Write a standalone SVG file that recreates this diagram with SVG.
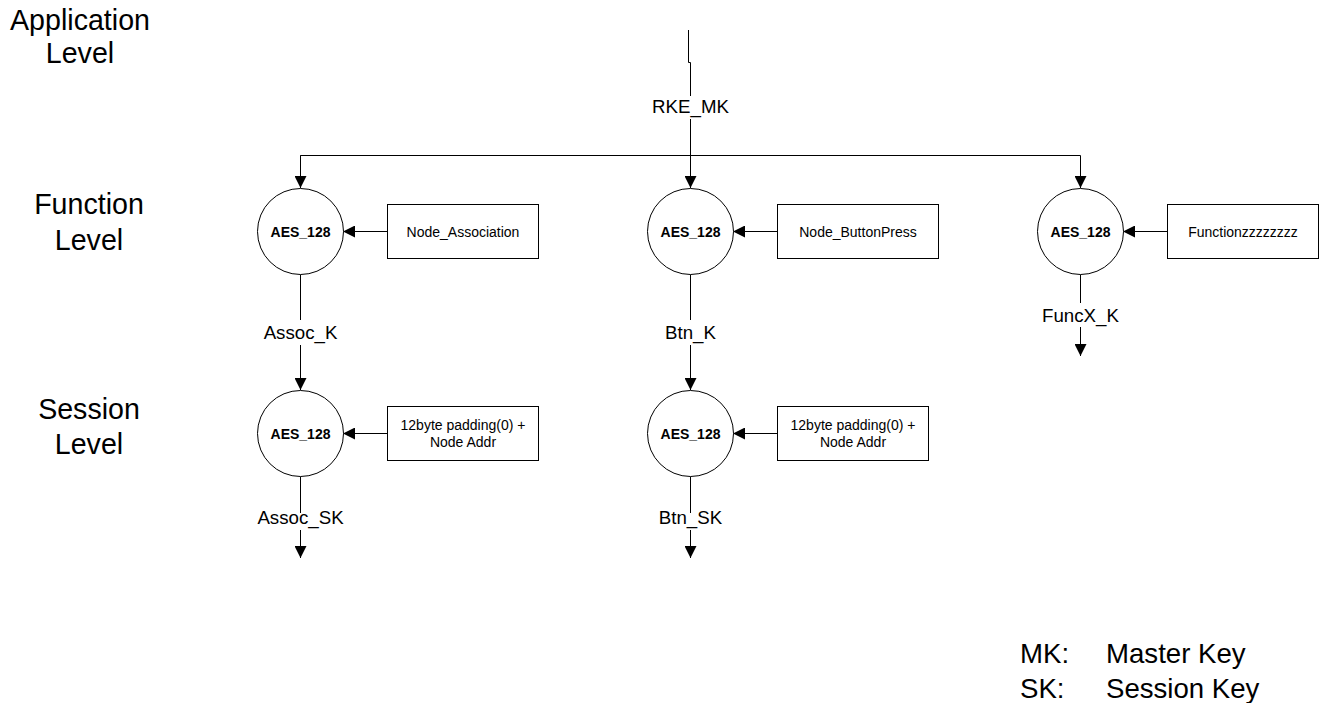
<svg xmlns="http://www.w3.org/2000/svg" width="1320" height="703" viewBox="0 0 1320 703">
<style>
text{font-family:"Liberation Sans",Arial,sans-serif;fill:#000}
.lvl{font-size:28.6px;text-anchor:middle}
.lab{font-size:18.7px;text-anchor:middle}
.aes{font-size:14px;font-weight:bold;text-anchor:middle}
.bx{font-size:14px;text-anchor:middle}
.leg{font-size:27.6px}
.c{fill:#fff;stroke:#000;stroke-width:1}
.r{fill:#fff;stroke:#000;stroke-width:1}
.ln{fill:none;stroke:#000;stroke-width:1}
</style>
<defs>
<marker id="ah" viewBox="0 0 12 12" refX="12" refY="6" markerWidth="12" markerHeight="12" markerUnits="userSpaceOnUse" orient="auto">
<path d="M0,0 L12,6 L0,12 z" fill="#000"/>
</marker>
</defs>
<rect width="1320" height="703" fill="#fff"/>
<g id="levels">
<text class="lvl" x="80" y="30">Application</text>
<text class="lvl" x="80" y="63">Level</text>
<text class="lvl" x="89" y="214">Function</text>
<text class="lvl" x="89" y="250">Level</text>
<text class="lvl" x="89" y="419">Session</text>
<text class="lvl" x="89" y="454">Level</text>
</g>
<g id="connectors">
<path class="ln" d="M688.5,30 V62.5 H690.5 V96"/>
<path class="ln" d="M690.5,119 V188" marker-end="url(#ah)"/>
<path class="ln" d="M300.5,188 V155.5 H1080.5 V188" marker-end="url(#ah)"/>
<path class="ln" d="M300.5,155.5 V188" marker-end="url(#ah)"/>
<path class="ln" d="M387,231.5 H343" marker-end="url(#ah)"/>
<path class="ln" d="M777,231.5 H733" marker-end="url(#ah)"/>
<path class="ln" d="M1167,231.5 H1123" marker-end="url(#ah)"/>
<path class="ln" d="M387,433.5 H343" marker-end="url(#ah)"/>
<path class="ln" d="M777,433.5 H733" marker-end="url(#ah)"/>
<path class="ln" d="M300.5,274.5 V320"/>
<path class="ln" d="M300.5,345 V390" marker-end="url(#ah)"/>
<path class="ln" d="M690.5,274.5 V320"/>
<path class="ln" d="M690.5,345 V390" marker-end="url(#ah)"/>
<path class="ln" d="M1080.5,274.5 V303"/>
<path class="ln" d="M1080.5,327 V356" marker-end="url(#ah)"/>
<path class="ln" d="M300.5,476.5 V513"/>
<path class="ln" d="M300.5,530 V558" marker-end="url(#ah)"/>
<path class="ln" d="M690.5,476.5 V513"/>
<path class="ln" d="M690.5,530 V558" marker-end="url(#ah)"/>
<text class="lab" x="690.5" y="112.5">RKE_MK</text>
<text class="lab" x="300.5" y="338.5">Assoc_K</text>
<text class="lab" x="690.5" y="338.5">Btn_K</text>
<text class="lab" x="1080.5" y="321.5">FuncX_K</text>
<text class="lab" x="300.5" y="523.5">Assoc_SK</text>
<text class="lab" x="690.5" y="523.5">Btn_SK</text>
</g>
<g id="aes_f1"><circle class="c" cx="300.5" cy="231.5" r="43"/><text class="aes" x="300.5" y="236.5">AES_128</text></g>
<g id="aes_f2"><circle class="c" cx="690.5" cy="231.5" r="43"/><text class="aes" x="690.5" y="236.5">AES_128</text></g>
<g id="aes_f3"><circle class="c" cx="1080.5" cy="231.5" r="43"/><text class="aes" x="1080.5" y="236.5">AES_128</text></g>
<g id="aes_s1"><circle class="c" cx="300.5" cy="433.5" r="43"/><text class="aes" x="300.5" y="439">AES_128</text></g>
<g id="aes_s2"><circle class="c" cx="690.5" cy="433.5" r="43"/><text class="aes" x="690.5" y="439">AES_128</text></g>
<g id="box_f1"><rect class="r" x="387.5" y="204.5" width="151" height="54"/><text class="bx" x="463" y="236.5">Node_Association</text></g>
<g id="box_f2"><rect class="r" x="777.5" y="204.5" width="161" height="54"/><text class="bx" x="858" y="236.5">Node_ButtonPress</text></g>
<g id="box_f3"><rect class="r" x="1167.5" y="204.5" width="151" height="54"/><text class="bx" x="1243" y="236.5">Functionzzzzzzzz</text></g>
<g id="box_s1"><rect class="r" x="387.5" y="406.5" width="151" height="54"/><text class="bx" x="463" y="430">12byte padding(0) +</text><text class="bx" x="463" y="446.5">Node Addr</text></g>
<g id="box_s2"><rect class="r" x="777.5" y="406.5" width="151" height="54"/><text class="bx" x="853" y="430">12byte padding(0) +</text><text class="bx" x="853" y="446.5">Node Addr</text></g>
<g id="legend">
<text class="leg" x="1020" y="663">MK:</text><text class="leg" x="1106" y="663">Master Key</text>
<text class="leg" x="1020" y="698">SK:</text><text class="leg" x="1106" y="698">Session Key</text>
</g>
</svg>
